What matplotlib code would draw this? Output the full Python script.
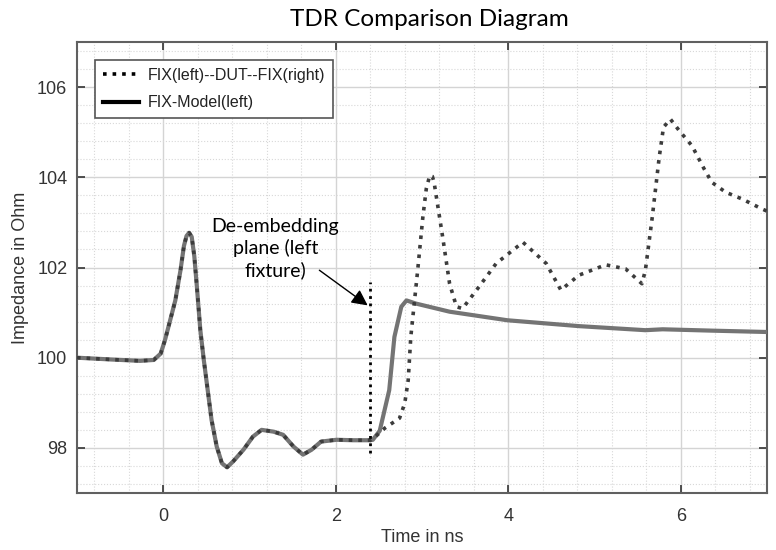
import matplotlib
matplotlib.use("Agg")
import matplotlib.pyplot as plt
from matplotlib.lines import Line2D
from matplotlib.ticker import MultipleLocator

# common part of both traces (up to the de-embedding plane)
common_t = [-1.0, -0.6, -0.27, -0.11, -0.03, 0.02, 0.08, 0.14, 0.20, 0.24, 0.27, 0.30, 0.33, 0.36,
            0.39, 0.43, 0.47, 0.51, 0.56, 0.62, 0.68, 0.74, 0.81, 0.93, 1.04, 1.14,
            1.28, 1.39, 1.51, 1.62, 1.72, 1.83, 2.01, 2.2, 2.4]
common_z = [100.0, 99.96, 99.93, 99.95, 100.09, 100.39, 100.83, 101.27, 101.94, 102.48, 102.70, 102.77, 102.68, 102.25,
            101.57, 100.61, 99.95, 99.36, 98.62, 98.03, 97.66, 97.57, 97.70, 97.96, 98.25, 98.40,
            98.36, 98.29, 98.03, 97.85, 97.96, 98.14, 98.18, 98.17, 98.17]

# FIX-Model(left) after the plane
model_t = [2.43, 2.51, 2.62, 2.68, 2.76, 2.82, 2.93, 3.32, 3.99, 4.82, 5.59, 5.79, 6.36, 7.0]
model_z = [98.18, 98.38, 99.28, 100.46, 101.13, 101.27, 101.2, 101.02, 100.83, 100.70, 100.61, 100.63, 100.6, 100.57]

# FIX(left)--DUT--FIX(right) after the plane
dut_t = [2.43, 2.57, 2.74, 2.80, 2.84, 2.87, 2.91, 2.95, 3.01, 3.05, 3.09, 3.12, 3.14, 3.24,
         3.32, 3.40, 3.47, 3.66, 3.86, 4.17, 4.44, 4.61, 4.82, 5.13, 5.36, 5.55, 5.59, 5.67,
         5.75, 5.80, 5.88, 5.98, 6.13, 6.27, 6.36, 6.52, 6.71, 6.94, 7.0]
dut_z = [98.2, 98.44, 98.66, 98.99, 99.5, 100.46, 101.2, 101.94, 103.12, 103.75, 104.04, 104.02, 103.89, 102.67,
         101.64, 101.13, 101.09, 101.57, 102.09, 102.56, 102.09, 101.5, 101.83, 102.06, 101.97, 101.64, 101.94, 103.12,
         104.44, 105.11, 105.29, 105.04, 104.70, 104.19, 103.89, 103.67, 103.52, 103.30, 103.25]

plane_t = 2.4
plane_z = [97.88, 101.68]

labels = ["FIX(left)--DUT--FIX(right)", "FIX-Model(left)"]

plt.rcParams['font.family'] = ['Liberation Sans', 'DejaVu Sans']

fig = plt.figure(figsize=(7.76, 5.5), dpi=100)
ax = fig.add_axes([77 / 776, 1 - 493 / 550, 690 / 776, 451 / 550])

ax.plot(common_t + model_t, common_z + model_z, color='#747474', lw=3.0, solid_capstyle='round',
        solid_joinstyle='round', zorder=3)
ax.plot(common_t + dut_t, common_z + dut_z, color='#3c3c3c', lw=2.6, ls=':', zorder=4)
ax.plot([plane_t, plane_t], plane_z, color='black', lw=2.0, ls=':', zorder=5)

ax.set_xlim(-1, 7)
ax.set_ylim(97, 107)
ax.xaxis.set_major_locator(MultipleLocator(2))
ax.yaxis.set_major_locator(MultipleLocator(2))
ax.xaxis.set_minor_locator(MultipleLocator(0.4))
ax.yaxis.set_minor_locator(MultipleLocator(0.4))

ax.grid(which='major', color='#d4d4d4', lw=1.0, ls='-')
ax.grid(which='minor', color='#d8d8d8', lw=0.8, ls=':')
ax.set_axisbelow(True)

ax.tick_params(which='major', direction='in', length=6, width=1.2, color='#333333',
               top=True, right=True, labelsize=13, labelcolor='#333333')
ax.tick_params(axis='x', pad=11)
ax.tick_params(axis='y', pad=7)
ax.tick_params(which='minor', length=0, top=True, right=True)
for s in ax.spines.values():
    s.set_color('#606060')
    s.set_linewidth(1.5)

ax.set_xlabel("Time in ns", fontsize=13, color='#333333', labelpad=3)
ax.set_ylabel("Impedance in Ohm", fontsize=13, color='#333333', labelpad=6)
fig.text(429 / 776, 1 - 20 / 550, "TDR Comparison Diagram", family=['Lato', 'DejaVu Sans'],
         fontsize=17.5, ha='center', va='center', color='black')

# annotation text and its arrow
ax.text(1.30, 102.42, "De-embedding\nplane (left\nfixture)", ha='center', va='center',
        family=['Lato', 'DejaVu Sans'], fontsize=14, linespacing=1.25, zorder=6)
ax.annotate("", xy=(2.37, 101.16), xytext=(1.81, 101.94), zorder=6,
            arrowprops=dict(arrowstyle='-|>', color='black', lw=1.0, mutation_scale=24,
                            shrinkA=0, shrinkB=0))

# legend handles in black like the original
handles = [Line2D([], [], color='black', lw=2.6, ls=':'),
           Line2D([], [], color='black', lw=3.0)]
leg = ax.legend(handles, labels, loc='upper left', fontsize=11.5, handlelength=2.3,
                handletextpad=0.5, borderpad=0.5, labelspacing=0.8, borderaxespad=1.1,
                fancybox=False, framealpha=1, edgecolor='#555555')
leg.get_frame().set_linewidth(1.2)
for t in leg.get_texts():
    t.set_color('#222222')

fig.savefig("out.png", dpi=100)
